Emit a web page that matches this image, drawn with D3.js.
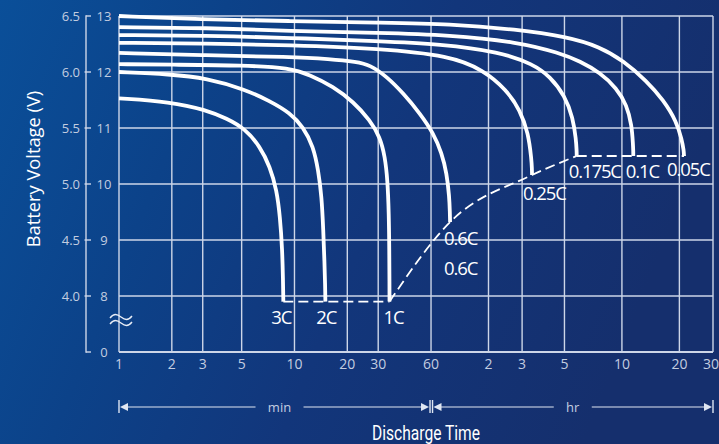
<!DOCTYPE html>
<html>
<head>
<meta charset="utf-8">
<script src="https://cdn.jsdelivr.net/npm/d3@7"></script>
<style>
  html, body { margin: 0; padding: 0; background: #0f3a80; }
  svg { display: block; }
</style>
</head>
<body>
<svg id="chart" width="719" height="444"></svg>
<script>
// ---------------- DATA ----------------
// Discharge time in minutes, battery voltage on the 12 V scale
const rateNames = ["3C", "2C", "1C", "0.6C", "0.25C", "0.175C", "0.1C", "0.05C"];

const curve3C = [[1,11.53],[1.95,11.47],[3.16,11.32],[4.11,11.17],[5.22,10.99],[6.36,10.67],[7.25,10.31],[7.92,9.89],[8.27,9.42],[8.52,8.82],[8.6,8.3],[8.64,7.9]];
const curve2C = [[1,12.0],[1.95,11.96],[3.16,11.89],[5.22,11.69],[7.25,11.48],[9.43,11.27],[11.22,11.02],[12.8,10.67],[13.66,10.25],[14.29,9.77],[14.59,9.18],[14.83,8.59],[14.95,8.2],[15.0,7.9]];
const curve1C = [[1,12.14],[1.95,12.13],[5.22,12.12],[9.43,12.07],[12.26,11.95],[16.64,11.74],[21.63,11.47],[26.93,11.14],[30.71,10.84],[32.79,10.49],[33.9,10.07],[34.5,9.48],[34.7,8.82],[34.78,8.2],[34.8,7.9]];
const curve06C = [[1,12.34],[3.13,12.30],[9.43,12.27],[15.93,12.23],[22.62,12.18],[26.93,12.125],[33.53,11.92],[41.69,11.62],[51.89,11.26],[61.7,10.91],[68.3,10.55],[72.5,10.19],[74.8,9.77],[75.3,9.5],[75.5,9.32]];
const curve025C = [[1,12.52],[3.13,12.51],[9.43,12.48],[30.71,12.42],[75.5,12.29],[112.4,12.04],[149.5,11.68],[175.5,11.32],[194,10.91],[201.6,10.43],[202.6,10.28],[202.9,10.16]];
const curve0175C = [[1,12.66],[3.13,12.65],[9.43,12.61],[30.71,12.55],[66.9,12.50],[137.9,12.36],[205.3,12.14],[252.1,11.92],[302,11.57],[332.5,11.18],[344.9,10.79],[347.5,10.6],[347.8,10.5]];
const curve01C = [[1,12.80],[3.13,12.79],[9.43,12.73],[30.71,12.70],[75.5,12.66],[168.7,12.54],[284.3,12.34],[361.9,12.19],[460.8,11.99],[563.6,11.71],[636,11.41],[675.6,11.05],[685.8,10.70],[688,10.58],[688.2,10.5]];
const curve005C = [[1,13.0],[2.89,12.94],[9.43,12.91],[30.71,12.88],[75.5,12.86],[168.7,12.76],[308.2,12.63],[460.8,12.45],[610.2,12.2],[809.4,11.84],[988.8,11.5],[1162,11.11],[1234.8,10.79],[1265,10.6],[1269,10.5]];

const xTickValues = [1, 2, 3, 5, 10, 20, 30, 60, 120, 180, 300, 600, 1200, 1800];
const xTickLabels = ["1","2","3","5","10","20","30","60","2","3","5","10","20","30"];
const yTickValues = [0, 8, 9, 10, 11, 12, 13];
const yTickLabels12 = ["0","8","9","10","11","12","13"];
const yTickLabels6 = ["","4.0","4.5","5.0","5.5","6.0","6.5"];
const unitLabels = ["min", "hr"];

// ---------------- LAYOUT ----------------
const curves = [curve3C, curve2C, curve1C, curve06C, curve025C, curve0175C, curve01C, curve005C];
const W = 719, H = 444;
const plot = { left: 119, right: 713, top: 16, bottom: 352 };
const hourSplit = 0.5253; // fraction of width where the hour section begins

const svg = d3.select("#chart");
const defs = svg.append("defs");
const grad = defs.append("linearGradient").attr("id", "bg").attr("x1", "0").attr("y1", "0").attr("x2", "1").attr("y2", "0.25");
[["0%", "#0a4f99"], ["30%", "#0c4289"], ["60%", "#12367b"], ["100%", "#152f6d"]].forEach(s =>
  grad.append("stop").attr("offset", s[0]).attr("stop-color", s[1]));
svg.append("rect").attr("width", W).attr("height", H).attr("fill", "url(#bg)");

const x = d3.scaleLog()
  .domain([1, 60, 1800])
  .range([plot.left, plot.left + (plot.right - plot.left) * hourSplit, plot.right]);
// broken axis: 0 at the bottom, linear scale from 7.5 V upwards
const y = d3.scaleLinear()
  .domain([0, 7.5, 13])
  .range([plot.bottom, plot.bottom - 28, plot.top]);

const gridColor = "#cdd6e8";
const tickTextColor = "#c3cde0";

// Grid
const grid = svg.append("g");
grid.selectAll("line.v").data(xTickValues).join("line")
  .attr("x1", d => x(d)).attr("x2", d => x(d))
  .attr("y1", y(13)).attr("y2", y(0))
  .attr("stroke", gridColor).attr("stroke-width", 1.4);
grid.selectAll("line.h").data(yTickValues).join("line")
  .attr("x1", x(1)).attr("x2", x(1800))
  .attr("y1", d => y(d)).attr("y2", d => y(d))
  .attr("stroke", gridColor).attr("stroke-width", d => d === 0 ? 1.8 : 1.4);

// Left bracket axis
const axX = 86;
const ax = svg.append("g");
ax.append("line").attr("x1", axX).attr("x2", axX).attr("y1", y(13) - 0.7).attr("y2", y(0) + 0.7)
  .attr("stroke", gridColor).attr("stroke-width", 1.4);
ax.selectAll("line.t").data(yTickValues).join("line")
  .attr("x1", d => (d === 13 || d === 0) ? axX : axX - 1.5).attr("x2", axX + 5)
  .attr("y1", d => y(d)).attr("y2", d => y(d))
  .attr("stroke", gridColor).attr("stroke-width", 1.4);
ax.selectAll("text.l12").data(yTickValues).join("text")
  .attr("x", 104).attr("y", d => y(d) + 4.6)
  .attr("text-anchor", "middle")
  .attr("font-family", "Open Sans").attr("font-size", 13)
  .attr("fill", tickTextColor)
  .text((d, i) => yTickLabels12[i]);
ax.selectAll("text.l6").data(yTickValues).join("text")
  .attr("x", 80).attr("y", d => y(d) + 4.6)
  .attr("text-anchor", "end")
  .attr("font-family", "Open Sans").attr("font-size", 13)
  .attr("fill", tickTextColor)
  .text((d, i) => yTickLabels6[i]);

// Axis break symbol
const brk = svg.append("g").attr("fill", "none").attr("stroke", "#e8edf6").attr("stroke-width", 1.4);
[0, 6].forEach(off => {
  const p = d3.path();
  const y0 = (y(0) + y(8)) / 2 - 7 + off;
  const x0 = x(1) - 9;
  p.moveTo(x0, y0 + 1);
  p.bezierCurveTo(x0 + 4, y0 - 4, x0 + 7, y0 - 3, x0 + 11, y0);
  p.bezierCurveTo(x0 + 15, y0 + 3, x0 + 18, y0 + 4, x0 + 22, y0 - 1);
  brk.append("path").attr("d", p.toString());
});

// X tick labels
svg.selectAll("text.xt").data(xTickValues).join("text")
  .attr("x", (d, i) => x(d) - (i === xTickValues.length - 1 ? 2 : 0)).attr("y", plot.bottom + 17)
  .attr("text-anchor", "middle")
  .attr("font-family", "Open Sans").attr("font-size", 14)
  .attr("fill", tickTextColor)
  .text((d, i) => xTickLabels[i]);

// Curves
const line = d3.line().x(d => x(d[0])).y(d => y(d[1])).curve(d3.curveBasis);
svg.append("g").selectAll("path").data(curves).join("path")
  .attr("d", line)
  .attr("fill", "none").attr("stroke", "#ffffff").attr("stroke-width", 3.8)
  .attr("stroke-linecap", "butt");

// End-of-discharge dashed line
const ends = curves.map(c => c[c.length - 1]);
const dashG = svg.append("g").attr("fill", "none").attr("stroke", "#ffffff").attr("stroke-width", 1.8).attr("stroke-dasharray", "10,5");
const straight = d3.line().x(d => x(d[0])).y(d => y(d[1]));
const bent = d3.line().x(d => x(d[0])).y(d => y(d[1])).curve(d3.curveMonotoneX);
dashG.append("path").attr("d", straight(ends.slice(0, 3)));
dashG.append("path").attr("d", bent(ends.slice(2, 6)));
dashG.append("path").attr("d", straight(ends.slice(5, 8)));

// Rate labels
const labelOffsets = [[-2, 22, "middle"], [1, 22, "middle"], [4, 22, "middle"], [-6, 23, "start"], [-9, 25, "start"], [-8, 22, "start"], [-7.5, 22, "start"], [-17, 20, "start"]];
const lbl = svg.append("g").attr("font-family", "Open Sans").attr("font-size", 18.5)
  .attr("fill", "#ffffff").attr("letter-spacing", "-1.1");
ends.forEach((e, i) => {
  lbl.append("text")
    .attr("x", x(e[0]) + labelOffsets[i][0])
    .attr("y", y(e[1]) + labelOffsets[i][1])
    .attr("text-anchor", labelOffsets[i][2])
    .text(rateNames[i]);
});
// duplicated label as in the original
lbl.append("text")
  .attr("x", x(ends[3][0]) + labelOffsets[3][0])
  .attr("y", y(ends[3][1]) + labelOffsets[3][1] + 30)
  .text(rateNames[3]);

// Unit range arrows
const ay = 407;
const arr = svg.append("g");
const arrowColor = "#dfe6f2";
function rangeArrow(x0, x1, label, gapHalf, dxLabel) {
  const cx = (x0 + x1) / 2 + dxLabel;
  arr.append("line").attr("x1", x0).attr("x2", x0).attr("y1", ay - 7).attr("y2", ay + 6)
    .attr("stroke", arrowColor).attr("stroke-width", 1.4);
  arr.append("line").attr("x1", x1).attr("x2", x1).attr("y1", ay - 7).attr("y2", ay + 6)
    .attr("stroke", arrowColor).attr("stroke-width", 1.4);
  arr.append("path").attr("d", `M${x0 + 1},${ay} L${x0 + 9},${ay - 4} L${x0 + 9},${ay + 4} Z`).attr("fill", arrowColor);
  arr.append("path").attr("d", `M${x1 - 1},${ay} L${x1 - 9},${ay - 4} L${x1 - 9},${ay + 4} Z`).attr("fill", arrowColor);
  arr.append("line").attr("x1", x0 + 8).attr("x2", cx - gapHalf).attr("y1", ay).attr("y2", ay)
    .attr("stroke", arrowColor).attr("stroke-width", 1.2);
  arr.append("line").attr("x1", cx + gapHalf).attr("x2", x1 - 8).attr("y1", ay).attr("y2", ay)
    .attr("stroke", arrowColor).attr("stroke-width", 1.2);
  arr.append("text").attr("x", cx).attr("y", ay + 4.5).attr("text-anchor", "middle")
    .attr("font-family", "Open Sans").attr("font-size", 13).attr("fill", tickTextColor)
    .text(label);
}
rangeArrow(x(1), x(60) - 1, unitLabels[0], 24, 5);
rangeArrow(x(60) + 1.5, x(1800), unitLabels[1], 19, 0);

// Axis titles
svg.append("text")
  .attr("x", (x(1) + x(1800)) / 2 + 10).attr("y", 440)
  .attr("text-anchor", "middle")
  .attr("font-family", "Roboto").attr("font-size", 21)
  .attr("textLength", 108).attr("lengthAdjust", "spacingAndGlyphs")
  .attr("fill", "#ffffff")
  .text("Discharge Time");

svg.append("text")
  .attr("transform", `translate(39.5,${(y(13) + y(0)) / 2 - 15}) rotate(-90)`)
  .attr("text-anchor", "middle")
  .attr("font-family", "Open Sans").attr("font-size", 18.3)
  .attr("fill", "#ffffff")
  .text("Battery Voltage (V)");
</script>
</body>
</html>
